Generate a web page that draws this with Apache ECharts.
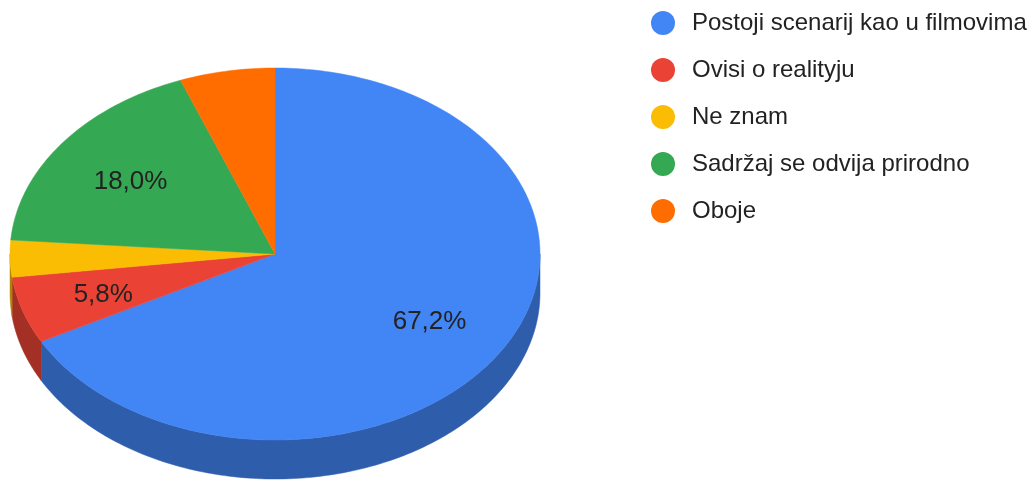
<!DOCTYPE html>
<html>
<head>
<meta charset="utf-8">
<script src="https://cdn.jsdelivr.net/npm/echarts@6/dist/echarts.min.js"></script>
<style>
    html, body { margin: 0; padding: 0; background: #fff; }
    #chart { width: 1033px; height: 481px; }
</style>
</head>
<body>
<div id="chart"></div>
<script>
// answers, clockwise from 12 o'clock, and their share in %
var categories = ['Postoji scenarij kao u filmovima', 'Ovisi o realityju', 'Ne znam', 'Sadržaj se odvija prirodno', 'Oboje'];
var shares = [67.2, 5.8, 3.2, 18.0, 5.8];

var colors = ['#4285f4', '#ea4335', '#fbbc04', '#34a853', '#ff6d01'];
var sideColors = ['#2e5dab', '#a42f25', '#b08403', '#24763a', '#b34c01'];

// tilted pie geometry (px)
var CX = 275, CY = 254, RX = 265, RY = 186, DEPTH = 39;
var LABEL_R = 0.68;
var LABEL_DY = 3;
var FONT_FAMILY = 'Arial, "Liberation Sans", sans-serif';
var LABEL_FONT = '26px ' + FONT_FAMILY;

var total = shares.reduce(function (a, b) { return a + b; }, 0);
var startDeg = [], endDeg = [];
var acc = 0;
shares.forEach(function (v) {
    startDeg.push(acc / total * 360);
    acc += v;
    endDeg.push(acc / total * 360);
});

var measureCtx = document.createElement('canvas').getContext('2d');

function pt(deg, r, dy) {
    var a = deg * Math.PI / 180;
    return [CX + RX * r * Math.sin(a), CY - RY * r * Math.cos(a) + (dy || 0)];
}

function arc(from, to, dy) {
    var pts = [];
    var n = Math.max(2, Math.ceil(Math.abs(to - from)));
    for (var k = 0; k <= n; k++) {
        pts.push(pt(from + (to - from) * k / n, 1, dy));
    }
    return pts;
}

function insideSlice(x, y, a0, a1) {
    var nx = (x - CX) / RX, ny = (y - CY) / RY;
    if (Math.sqrt(nx * nx + ny * ny) > 1) return false;
    var t = Math.atan2(nx, -ny) * 180 / Math.PI;
    if (t < 0) t += 360;
    return t >= a0 && t <= a1;
}

function formatShare(v) {
    return v.toFixed(1).replace('.', ',') + '%';
}

function renderSlice(params, api) {
    var i = params.seriesIndex;
    var a0 = startDeg[i], a1 = endDeg[i];
    var children = [];

    // outer wall, only the front half is seen
    var lo = Math.max(a0, 90), hi = Math.min(a1, 270);
    if (hi > lo) {
        var wall = arc(lo, hi, 0).concat(arc(hi, lo, DEPTH));
        children.push({
            type: 'polygon',
            shape: { points: wall },
            style: { fill: sideColors[i], stroke: sideColors[i], lineWidth: 0.5 }
        });
    }

    // top face
    children.push({
        type: 'polygon',
        shape: { points: [[CX, CY]].concat(arc(a0, a1, 0)) },
        style: { fill: colors[i], stroke: colors[i], lineWidth: 0.5 }
    });

    // percentage label, only when it fits inside the slice
    var text = formatShare(api.value(0));
    var mid = (a0 + a1) / 2;
    var c = pt(mid, LABEL_R, 0);
    measureCtx.font = LABEL_FONT;
    var w = measureCtx.measureText(text).width / 2 + 2;
    var h = 12;
    var fits = [[-w, -h], [w, -h], [-w, h], [w, h]].every(function (d) {
        return insideSlice(c[0] + d[0], c[1] + d[1], a0, a1);
    });
    if (fits) {
        children.push({
            type: 'text',
            x: c[0],
            y: c[1] + LABEL_DY,
            style: {
                text: text,
                font: LABEL_FONT,
                fill: '#222222',
                align: 'center',
                verticalAlign: 'middle'
            }
        });
    }

    return { type: 'group', children: children };
}

var chart = echarts.init(document.getElementById('chart'));

chart.setOption({
    animation: false,
    color: colors,
    legend: {
        orient: 'vertical',
        left: 646,
        top: 6,
        itemWidth: 48,
        itemHeight: 24,
        itemGap: 23,
        icon: 'circle',
        selectedMode: false,
        textStyle: {
            fontFamily: FONT_FAMILY,
            fontSize: 24,
            color: '#222222'
        },
        data: categories
    },
    series: categories.map(function (name, i) {
        return {
            type: 'custom',
            name: name,
            coordinateSystem: 'none',
            itemStyle: { color: colors[i] },
            renderItem: renderSlice,
            data: [[shares[i]]]
        };
    })
});
</script>
</body>
</html>
